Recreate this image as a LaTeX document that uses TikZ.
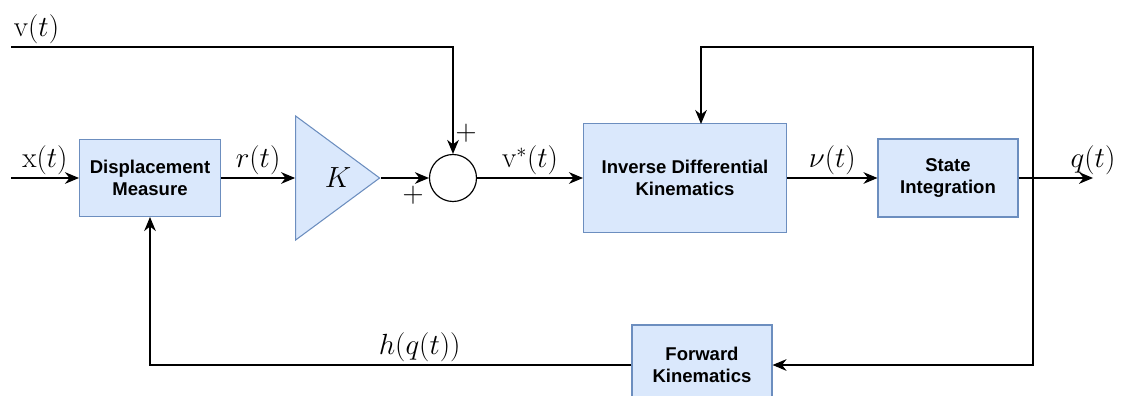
\documentclass[tikz,border=0pt]{standalone}
\usepackage{fontspec}
\newfontfamily\blockfont{Liberation Sans}
\usetikzlibrary{arrows.meta,shapes.geometric,positioning}

\definecolor{blockfill}{HTML}{DAE8FC}
\definecolor{blockline}{HTML}{6C8EBF}

\tikzset{
    block/.style={draw=blockline, fill=blockfill, line width=0.9pt, align=center,
        inner sep=0pt, font=\blockfont\bfseries\fontsize{15.8}{18.7}\selectfont},
    sig/.style={font=\fontsize{25}{29}\selectfont, inner sep=2pt},
}

\begin{document}
\begin{tikzpicture}[x=0.03cm, y=-0.03cm, line width=1pt, >={Stealth[length=12pt, width=10pt]}]
    \useasboundingbox (0,0) rectangle (1122,396);
    % blocks
    \node[block, minimum width=4.23cm, minimum height=2.31cm] (disp) at (150,178) {Displacement\\Measure};
    \node[block, isosceles triangle, isosceles triangle stretches, minimum width=3.72cm, minimum height=2.52cm,
        anchor=apex] (gain) at (381,178) {};
    \path (gain.lower side) -- node[sig] (gaintext) {$K$} (gain.apex);
    \node[draw, circle, minimum size=1.41cm, inner sep=0pt] (sum) at (453,178) {};
    \node[block, minimum width=6.09cm, minimum height=3.27cm] (idk) at (685,178) {Inverse Differential\\Kinematics};
    \node[block, minimum width=4.2cm, minimum height=2.34cm] (integ) at (948,178) {State\\Integration};
    \node[block, minimum width=4.2cm, minimum height=2.4cm] (fk) at (702,365) {Forward\\Kinematics};
    % free ends
    \coordinate (xin) at (11,178);
    \coordinate (vin) at (11,47);
    \coordinate (qout) at (1093,178);
    \coordinate (tap) at (1033,178);
    \coordinate (idktop) at (701,124);
    % signs
    \node[sig] (plustop) at (466,133) {$+$};
    \node[sig] (plusleft) at (413,195) {$+$};
    % forward path
    \draw[->] (xin) -- node[sig, above] {$\mathrm{x}(t)$} (disp);
    \draw[->] (disp) -- node[sig, above] {$r(t)$} (gain.lower side);
    \draw[->] (gain.apex) -- (sum);
    \draw[->] (vin) node[sig, above right] {$\mathrm{v}(t)$} -| (sum);
    \draw[->] (sum) -- node[sig, above] {$\mathrm{v}^*(t)$} (idk);
    \draw[->] (idk) -- node[sig, above] {$\nu(t)$} (integ);
    \draw[->] (integ) -- (qout) node[sig, above] {$q(t)$};
    % feedback
    \draw[->] (tap) |- (idktop |- vin) -- (idktop);
    \draw[->] (tap) |- (fk);
    \draw[->] (fk) -| node[sig, pos=0.22, above] {$h(q(t))$} (disp);
\end{tikzpicture}
\end{document}
